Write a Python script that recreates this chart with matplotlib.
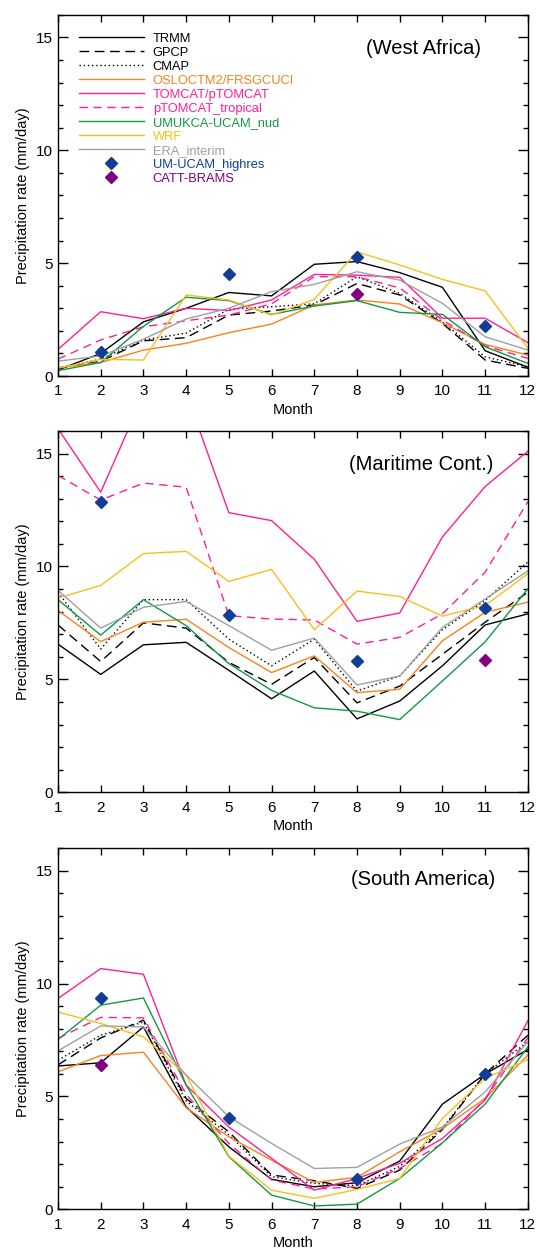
import matplotlib
matplotlib.use("Agg")
from matplotlib import pyplot as plt
from matplotlib.ticker import MultipleLocator
import numpy as np

plt.rcParams['font.family'] = ['Liberation Sans', 'DejaVu Sans']

months = list(range(1, 13))

# West Africa
wa_trmm = [0.27, 1.0, 2.4, 3.0, 3.7, 3.55, 4.95, 5.07, 4.58, 3.93, 1.12, 0.39]
wa_gpcp = [0.35, 0.65, 1.56, 1.7, 2.7, 2.88, 3.15, 4.1, 3.59, 2.33, 0.71, 0.34]
wa_cmap = [0.35, 0.75, 1.6, 1.9, 2.96, 3.07, 3.2, 4.4, 3.66, 2.4, 0.85, 0.41]
wa_oslo = [0.38, 0.6, 1.15, 1.45, 1.92, 2.3, 3.15, 3.37, 3.19, 2.36, 1.4, 0.93]
wa_tomcat = [1.18, 2.85, 2.54, 3.0, 2.9, 3.37, 4.5, 4.47, 4.37, 2.56, 2.56, 1.48]
wa_ptrop = [0.75, 1.6, 2.18, 2.45, 2.7, 3.2, 4.4, 4.4, 3.9, 2.48, 1.34, 0.78]
wa_umukca = [0.24, 0.6, 2.2, 3.49, 3.34, 2.73, 3.1, 3.34, 2.82, 2.73, 1.3, 0.56]
wa_wrf = [0.35, 0.74, 0.71, 3.59, 3.37, 2.7, 3.4, 5.5, 4.92, 4.28, 3.77, 1.23]
wa_era = [0.66, 0.89, 1.63, 2.53, 3.0, 3.74, 4.06, 4.62, 4.25, 3.22, 1.74, 1.15]
wa_hires_m = [2, 5, 8, 11]
wa_hires = [1.05, 4.52, 5.29, 2.23]
wa_catt_m = [8]
wa_catt = [3.65]

# Maritime Continent
mc_trmm = [6.56, 5.22, 6.53, 6.64, 5.4, 4.14, 5.37, 3.25, 4.04, 5.6, 7.41, 7.9]
mc_gpcp = [7.41, 5.79, 7.5, 7.27, 5.75, 4.78, 5.97, 3.96, 4.7, 6.11, 7.53, 8.86]
mc_cmap = [8.86, 6.34, 8.53, 8.53, 6.78, 5.6, 6.78, 4.48, 5.15, 7.2, 8.49, 10.2]
mc_oslo = [8.05, 6.67, 7.53, 7.66, 6.41, 5.3, 6.04, 4.41, 4.56, 6.71, 7.97, 8.42]
mc_tomcat = [16.1, 13.29, 17.6, 17.7, 12.38, 12.03, 10.32, 7.57, 7.94, 11.31, 13.54, 15.1]
mc_ptrop = [14.03, 12.94, 13.69, 13.51, 7.82, 7.67, 7.63, 6.56, 6.86, 7.9, 9.75, 12.87]
mc_umukca = [8.53, 6.96, 8.53, 7.38, 5.7, 4.51, 3.74, 3.59, 3.22, 4.93, 6.66, 9.01]
mc_wrf = [8.6, 9.16, 10.57, 10.67, 9.34, 9.87, 7.2, 8.91, 8.67, 7.8, 8.27, 9.68]
mc_era = [8.94, 7.27, 8.19, 8.45, 7.38, 6.29, 6.83, 4.75, 5.15, 7.3, 8.56, 9.8]
mc_hires_m = [2, 5, 8, 11]
mc_hires = [12.84, 7.85, 5.82, 8.16]
mc_catt_m = [11]
mc_catt = [5.86]

# South America
sa_trmm = [6.35, 6.49, 8.08, 4.54, 2.77, 1.33, 1.0, 1.18, 2.14, 4.66, 5.99, 7.08]
sa_gpcp = [6.4, 7.59, 8.38, 4.91, 3.43, 1.52, 1.27, 0.93, 1.74, 3.54, 6.0, 7.71]
sa_cmap = [6.6, 7.71, 8.3, 4.8, 3.3, 1.45, 1.15, 1.05, 1.9, 3.6, 6.0, 7.42]
sa_oslo = [6.09, 6.81, 6.96, 4.5, 3.21, 2.18, 1.19, 1.42, 2.55, 3.58, 4.91, 6.83]
sa_tomcat = [9.34, 10.66, 10.41, 5.5, 3.65, 2.26, 0.85, 1.37, 2.04, 3.14, 4.84, 8.35]
sa_ptrop = [7.57, 8.5, 8.48, 5.1, 2.92, 1.3, 0.9, 1.0, 1.81, 2.92, 4.9, 7.6]
sa_umukca = [7.52, 9.04, 9.36, 5.5, 2.33, 0.63, 0.15, 0.23, 1.37, 2.95, 4.66, 7.19]
sa_wrf = [8.74, 8.23, 7.64, 5.94, 2.36, 0.85, 0.49, 0.88, 1.37, 4.03, 5.8, 6.64]
sa_era = [7.02, 8.12, 8.08, 5.95, 4.1, 2.92, 1.81, 1.86, 2.89, 3.65, 5.2, 7.42]
sa_hires_m = [2, 5, 8, 11]
sa_hires = [9.34, 4.05, 1.34, 5.99]
sa_catt_m = [2]
sa_catt = [6.4]

names = ['TRMM', 'GPCP', 'CMAP', 'OSLOCTM2/FRSGCUCI', 'TOMCAT/pTOMCAT',
         'pTOMCAT_tropical', 'UMUKCA-UCAM_nud', 'WRF', 'ERA_interim']
colors = ['black', 'black', 'black', '#f7821e', '#ff1e96', '#ff1e96',
          '#119944', '#f7c01a', '#a0a0a0']
styles = ['-', (0, (7, 4)), (0, (1, 2)), '-', '-', (0, (6, 4)), '-', '-', '-']
hires_color = '#123d96'
catt_color = '#800080'

regions = [
    ('(West Africa)', [wa_trmm, wa_gpcp, wa_cmap, wa_oslo, wa_tomcat, wa_ptrop,
                       wa_umukca, wa_wrf, wa_era],
     wa_hires_m, wa_hires, wa_catt_m, wa_catt, 0.90, 0.906),
    ('(Maritime Cont.)', [mc_trmm, mc_gpcp, mc_cmap, mc_oslo, mc_tomcat, mc_ptrop,
                          mc_umukca, mc_wrf, mc_era],
     mc_hires_m, mc_hires, mc_catt_m, mc_catt, 0.926, 0.908),
    ('(South America)', [sa_trmm, sa_gpcp, sa_cmap, sa_oslo, sa_tomcat, sa_ptrop,
                         sa_umukca, sa_wrf, sa_era],
     sa_hires_m, sa_hires, sa_catt_m, sa_catt, 0.93, 0.912),
]

fig = plt.figure(figsize=(5.37, 12.51), dpi=100)
bottoms = [0.6994, 0.3667, 0.0333]

for i, (title, series, hm, hv, cm, cv, tx, ty) in enumerate(regions):
    ax = fig.add_axes([0.108, bottoms[i], 0.875, 0.2888])
    for vals, name, c, ls in zip(series, names, colors, styles):
        ax.plot(months, vals, color=c, linestyle=ls, lw=1.0, label=name)
    ax.plot(hm, hv, 'D', color=hires_color, ms=6, linestyle='none',
            label='UM-UCAM_highres')
    ax.plot(cm, cv, 'D', color=catt_color, ms=6, linestyle='none',
            label='CATT-BRAMS')
    ax.set_xlim(1, 12)
    ax.set_ylim(0, 16)
    ax.set_xticks(months)
    ax.yaxis.set_major_locator(MultipleLocator(5))
    ax.yaxis.set_minor_locator(MultipleLocator(1))
    ax.tick_params(axis='x', direction='in', top=True, length=5, width=1,
                   labelsize=11, pad=6)
    ax.tick_params(axis='y', which='major', direction='in', right=True,
                   length=7, width=1, labelsize=11, pad=4)
    ax.tick_params(axis='y', which='minor', direction='in', right=True,
                   length=3.5, width=1)
    for s in ax.spines.values():
        s.set_linewidth(1.0)
    ax.set_xlabel('Month', fontsize=10.5, labelpad=3)
    ax.set_ylabel('Precipitation rate (mm/day)', fontsize=10.5, labelpad=4)
    ax.text(tx, ty, title, transform=ax.transAxes, ha='right', va='center',
            fontsize=14.5)
    if i == 0:
        ax.legend(loc='upper left', bbox_to_anchor=(0.045, 0.95), frameon=False,
                  fontsize=9.3, handlelength=5.0, handletextpad=0.7,
                  labelspacing=0.15, borderpad=0, borderaxespad=0,
                  numpoints=1, labelcolor='linecolor')

plt.savefig('out.png', dpi=100)
